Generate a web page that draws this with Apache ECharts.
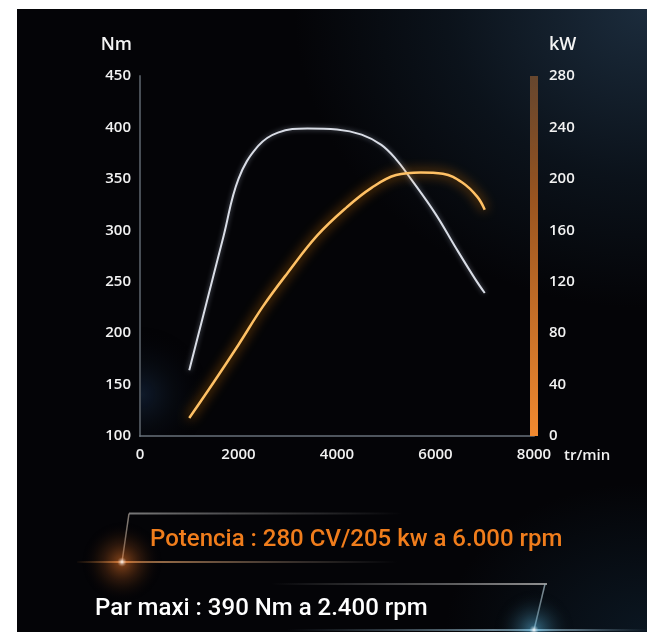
<!DOCTYPE html>
<html>
<head>
<meta charset="utf-8">
<script src="https://cdn.jsdelivr.net/npm/echarts@6/dist/echarts.min.js"></script>
<style>
  html, body { margin: 0; padding: 0; background: #ffffff; }
  #main {
    position: absolute; left: 17px; top: 9px; width: 630px; height: 623px;
    background:
      radial-gradient(ellipse 70% 60% at 100% 0%, rgba(30,48,66,0.9) 0%, rgba(16,28,40,0.6) 45%, rgba(0,0,0,0) 80%),
      radial-gradient(ellipse 40% 30% at 100% 100%, rgba(14,30,44,0.7) 0%, rgba(0,0,0,0) 80%),
      #040407;
  }
</style>
</head>
<body>
<div id="main"></div>
<script>
var chartDom = document.getElementById("main");
var myChart = echarts.init(chartDom);
var option;

// couple (Nm) en fonction du régime
var torqueRpm = [1000, 1300, 1700, 2000, 2400, 2800, 3400, 4000, 4500, 4900, 5200, 5500, 6000, 6400, 6800, 7000];
var torqueNm = [164, 220, 295, 350, 382, 395, 399, 398, 393, 383, 369, 350, 316, 284, 253, 239];

// puissance (kW)
var powerRpm = [1000, 1500, 2000, 2500, 3000, 3600, 4200, 4700, 5200, 5700, 6150, 6550, 6850, 7000];
var powerKw = [14, 42, 71, 101, 127, 156, 178, 193, 203, 205, 204, 197, 186, 176];

var xTicks = [0, 2000, 4000, 6000, 8000];
var nmTicks = [100, 150, 200, 250, 300, 350, 400, 450];
var kwTicks = [0, 40, 80, 120, 160, 200, 240, 280];

var headline = "Potencia : 280 CV/205 kw a 6.000 rpm";
var subline = "Par maxi : 390 Nm a 2.400 rpm";

function zip(a, b) {
  return a.map(function (v, i) { return [v, b[i]]; });
}

function plain(v) {
  return String(v);
}

var labelStyle = {
  color: "#f2f2f2",
  fontFamily: "Open Sans",
  fontWeight: 600,
  fontSize: 15,
  formatter: plain
};

var nameStyle = {
  color: "#f4f4f4",
  fontFamily: "Open Sans",
  fontWeight: 600,
  fontSize: 18
};

function fadeLine(x1, y1, x2, y2, stops) {
  return {
    type: "line",
    shape: { x1: x1, y1: y1, x2: x2, y2: y2 },
    style: {
      lineWidth: 2,
      stroke: new echarts.graphic.LinearGradient(0, 0, 1, 0, stops)
    },
    silent: true
  };
}

function glow(cx, cy, r, color) {
  return {
    type: "circle",
    shape: { cx: cx, cy: cy, r: r },
    style: {
      fill: new echarts.graphic.RadialGradient(0.5, 0.5, 0.5, [
        { offset: 0, color: "rgba(255,255,255,0.95)" },
        { offset: 0.12, color: color },
        { offset: 1, color: "rgba(0,0,0,0)" }
      ])
    },
    silent: true
  };
}

option = {
  backgroundColor: "transparent",
  animation: false,
  title: [
    {
      text: headline,
      left: 128,
      top: 514,
      textStyle: {
        color: "#f07d1c",
        fontFamily: "Roboto",
        fontWeight: 500,
        fontSize: 24
      }
    },
    {
      text: subline,
      left: 73,
      top: 583,
      textStyle: {
        color: "#ffffff",
        fontFamily: "Roboto",
        fontWeight: 500,
        fontSize: 24
      }
    }
  ],
  graphic: [
    {
      type: "rect",
      shape: { x: 124, y: 260, width: 90, height: 167 },
      style: {
        fill: new echarts.graphic.RadialGradient(0, 0.75, 0.75, [
          { offset: 0, color: "rgba(40,75,120,0.32)" },
          { offset: 1, color: "rgba(0,0,0,0)" }
        ])
      },
      silent: true,
      z: -1
    },
    fadeLine(112, 504.5, 385, 504.5, [
      { offset: 0, color: "rgba(150,150,150,0.8)" },
      { offset: 1, color: "rgba(150,150,150,0)" }
    ]),
    {
      type: "line",
      shape: { x1: 112, y1: 504.5, x2: 105, y2: 553 },
      style: { lineWidth: 1.5, stroke: "rgba(160,150,140,0.8)" },
      silent: true
    },
    fadeLine(60, 553, 380, 553, [
      { offset: 0, color: "rgba(200,120,50,0)" },
      { offset: 0.15, color: "rgba(220,150,90,0.8)" },
      { offset: 1, color: "rgba(150,150,150,0)" }
    ]),
    glow(105, 553, 40, "rgba(240,120,40,0.45)"),
    fadeLine(255, 575, 530, 575, [
      { offset: 0, color: "rgba(150,150,150,0)" },
      { offset: 1, color: "rgba(160,160,160,0.9)" }
    ]),
    {
      type: "line",
      shape: { x1: 528, y1: 575, x2: 517, y2: 621 },
      style: { lineWidth: 1.5, stroke: "rgba(150,170,180,0.8)" },
      silent: true
    },
    fadeLine(270, 621, 630, 621, [
      { offset: 0, color: "rgba(120,150,170,0)" },
      { offset: 0.7, color: "rgba(170,210,230,0.8)" },
      { offset: 1, color: "rgba(120,150,170,0)" }
    ]),
    glow(517, 621, 40, "rgba(90,180,220,0.45)")
  ],
  grid: {
    left: 123,
    right: 113,
    top: 67,
    bottom: 196
  },
  xAxis: {
    type: "value",
    min: 0,
    max: 8000,
    interval: 2000,
    name: "tr/min",
    nameLocation: "end",
    nameGap: 30,
    nameTextStyle: {
      color: "#f2f2f2",
      fontFamily: "Open Sans",
      fontWeight: 600,
      fontSize: 15,
      verticalAlign: "top",
      padding: [12, 0, 0, 0]
    },
    axisLine: { lineStyle: { color: "rgba(110,120,130,0.7)", width: 2 } },
    axisTick: { show: false },
    splitLine: { show: false },
    axisLabel: Object.assign({ margin: 11 }, labelStyle, { customValues: xTicks })
  },
  yAxis: [
    {
      type: "value",
      min: 100,
      max: 450,
      interval: 50,
      name: "Nm",
      nameLocation: "end",
      nameGap: 22,
      nameTextStyle: Object.assign({}, nameStyle, {
        align: "right",
        padding: [0, 8, 0, 0]
      }),
      axisLine: { show: true, lineStyle: { color: "rgba(130,140,150,0.55)", width: 2 } },
      axisTick: { show: false },
      splitLine: { show: false },
      axisLabel: Object.assign({ margin: 9 }, labelStyle, { customValues: nmTicks })
    },
    {
      type: "value",
      min: 0,
      max: 280,
      interval: 40,
      position: "right",
      name: "kW",
      nameLocation: "end",
      nameGap: 22,
      nameTextStyle: Object.assign({}, nameStyle, {
        align: "left",
        padding: [0, 0, 0, 15]
      }),
      axisLine: { show: false },
      axisTick: { show: false },
      splitLine: { show: false },
      axisLabel: Object.assign({ margin: 15 }, labelStyle, { customValues: kwTicks })
    }
  ],
  series: [
    {
      name: "kW bar",
      type: "line",
      yAxisIndex: 1,
      data: [[8000, 0], [8000, 280]],
      showSymbol: false,
      clip: false,
      silent: true,
      lineStyle: {
        width: 8,
        cap: "butt",
        color: new echarts.graphic.LinearGradient(0, 0, 0, 1, [
          { offset: 0, color: "rgba(130,85,50,0.75)" },
          { offset: 0.35, color: "#9a5520" },
          { offset: 1, color: "#f28a30" }
        ])
      },
      z: 1
    },
    {
      name: "Nm",
      type: "line",
      yAxisIndex: 0,
      data: zip(torqueRpm, torqueNm),
      smooth: 0.4,
      showSymbol: false,
      lineStyle: {
        color: "#d9dde6",
        width: 2,
        shadowBlur: 5,
        shadowColor: "rgba(200,210,230,0.5)"
      },
      z: 3
    },
    {
      name: "kW",
      type: "line",
      yAxisIndex: 1,
      data: zip(powerRpm, powerKw),
      smooth: 0.4,
      showSymbol: false,
      lineStyle: {
        color: "#ffc165",
        width: 2.5,
        shadowBlur: 12,
        shadowColor: "rgba(255,140,0,0.95)"
      },
      z: 4
    }
  ]
};

option && myChart.setOption(option);
</script>
</body>
</html>
